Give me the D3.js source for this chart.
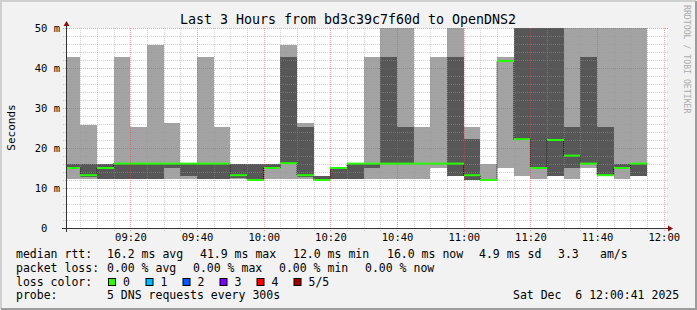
<!DOCTYPE html>
<html>
<head>
<meta charset="utf-8">
<script src="https://cdn.jsdelivr.net/npm/d3@7"></script>
<style>
  body { margin: 0; background: #fff; }
  svg { display: block; }
  text { font-family: "DejaVu Sans Mono", monospace; fill: #000; white-space: pre; }
</style>
</head>
<body>
<script>
// 5 minute steps, value shown is for the step ending at this time
var stepEnds = ["09:05", "09:10", "09:15", "09:20", "09:25", "09:30", "09:35",
  "09:40", "09:45", "09:50", "09:55", "10:00", "10:05", "10:10", "10:15",
  "10:20", "10:25", "10:30", "10:35", "10:40", "10:45", "10:50", "10:55",
  "11:00", "11:05", "11:10", "11:15", "11:20", "11:25", "11:30", "11:35",
  "11:40", "11:45", "11:50", "11:55"];
// sorted pings per step, in ms (values over 50 are off the chart)
var pingMin = [12.2, 12.2, 12.2, 12.2, 12.2, 12.2, 12.2, 12.2, 12.2, 12.2, 12.2,
  11.9, 12.2, 12.2, 12.2, 12.0, 12.2, 12.2, 12.2, 12.2, 12.2, 12.2, 15.0, 13.0,
  12.1, 12.0, 15.0, 13.0, 12.2, 13.0, 12.2, 15.0, 13.0, 12.2, 13.0];
var ping2 = [14.8, 12.8, 12.2, 12.2, 12.2, 12.2, 15.0, 13.0, 12.2, 12.2, 12.4,
  11.9, 15.0, 16.0, 12.8, 12.0, 12.2, 12.2, 15.0, 16.0, 16.0, 16.0, 15.9, 13.0,
  12.1, 12.0, 41.6, 22.1, 14.9, 13.0, 15.0, 16.0, 13.0, 14.9, 13.0];
var median = [15.0, 13.2, 15.0, 16.1, 16.1, 16.1, 16.1, 16.1, 16.1, 16.1, 13.2,
  12.0, 15.0, 16.2, 13.2, 12.0, 15.0, 16.1, 16.1, 16.1, 16.1, 16.1, 16.1, 16.1,
  13.2, 12.0, 41.75, 22.2, 15.0, 22.0, 18.1, 16.1, 13.2, 15.0, 16.1];
var ping4 = [16.0, 16.0, 16.0, 16.3, 16.3, 16.3, 16.3, 16.2, 16.3, 16.3, 16.0,
  16.0, 16.0, 42.75, 25.25, 13.1, 15.1, 16.3, 16.2, 42.75, 25.25, 16.2, 16.2, 42.75,
  22.25, 12.1, 41.9, 60, 60, 60, 25.25, 42.75, 25.25, 16.0, 16.2];
var pingMax = [42.75, 25.8, 16.1, 42.75, 25.25, 45.75, 26.25, 16.3, 42.75, 25.25, 16.0,
  16.0, 16.0, 45.75, 26.25, 13.1, 15.1, 16.3, 42.75, 60, 60, 25.25, 42.75, 60,
  25.25, 16.0, 42.75, 60, 60, 60, 60, 60, 60, 60, 60];

var yTicks = [0, 10, 20, 30, 40, 50];
var yTickLabels = ["0  ", "10 m", "20 m", "30 m", "40 m", "50 m"];

var lossLabels = ["0", "1", "2", "3", "4", "5/5"];
var lossColors = ["#26ff00", "#00b8ff", "#0059ff", "#7e00ff", "#ff0000", "#a10000"];

var rttStats = ["16.2 ms avg", "41.9 ms max", "12.0 ms min", "16.0 ms now",
  "4.9 ms sd", "3.3", "am/s"];
var lossStats = ["0.00 % avg", "0.00 % max", "0.00 % min", "0.00 % now"];
var probeText = "5 DNS requests every 300s";
var titleText = "Last 3 Hours from bd3c39c7f60d to OpenDNS2";
var stampText = "Sat Dec  6 12:00:41 2025";

var w = 697;
var h = 310;

var toDate = function(s) {
  var p = s.split(":");
  return new Date(2025, 11, 6, +p[0], +p[1], 0);
};
var start = new Date(2025, 11, 6, 9, 0, 41);
var end = new Date(2025, 11, 6, 12, 0, 41);

var x = d3.scaleTime().domain([start, end]).range([66, 666]);
var y = d3.scaleLinear().domain([0, 50]).range([228, 28]);

var steps = stepEnds.map(function(s, i) {
  var e = toDate(s);
  return {
    start: new Date(Math.max(+start, +e - 300000)),
    end: e,
    p1: pingMin[i], p2: ping2[i], p3: median[i], p4: ping4[i], p5: pingMax[i]
  };
});

var svg = d3.select("body").append("svg")
  .attr("width", w)
  .attr("height", h);

// frame
svg.append("rect").attr("width", w).attr("height", h).attr("fill", "#f2f2f2");
svg.append("path").attr("d", "M1,309 V1 H696").attr("fill", "none")
  .attr("stroke", "#d0d0d0").attr("stroke-width", 2);
svg.append("path").attr("d", "M1,309 H696 V1").attr("fill", "none")
  .attr("stroke", "#9c9c9c").attr("stroke-width", 2);

svg.append("defs").append("clipPath").attr("id", "plot")
  .append("rect").attr("x", 66).attr("y", 28).attr("width", 600).attr("height", 200);

svg.append("rect")
  .attr("x", 66).attr("y", 28).attr("width", 601).attr("height", 200)
  .attr("fill", "#fff");

var plot = svg.append("g").attr("clip-path", "url(#plot)");

var rx = function(d) { return Math.round(x(d.start)); };
var rw = function(d) { return Math.round(x(d.end)) - Math.round(x(d.start)); };

// outer smoke
plot.selectAll(".outer")
  .data(steps)
  .enter()
  .append("rect")
  .attr("x", rx)
  .attr("width", rw)
  .attr("y", function(d) { return y(d.p5); })
  .attr("height", function(d) { return y(d.p1) - y(d.p5); })
  .attr("fill", "#a3a3a3")
  .attr("shape-rendering", "crispEdges");

// inner smoke
plot.selectAll(".inner")
  .data(steps)
  .enter()
  .append("rect")
  .attr("x", rx)
  .attr("width", rw)
  .attr("y", function(d) { return y(d.p4); })
  .attr("height", function(d) { return y(d.p2) - y(d.p4); })
  .attr("fill", "#575757")
  .attr("shape-rendering", "crispEdges");

// grid
var grid = svg.append("g");
var minorTimes = d3.timeMinute.every(5).range(start, end);
minorTimes.forEach(function(t) {
  var major = t.getMinutes() % 20 === 0;
  var px = Math.round(x(t)) + 0.5;
  grid.append("line")
    .attr("x1", px).attr("x2", px).attr("y1", 28).attr("y2", 231)
    .attr("stroke", major ? "rgba(225,70,70,0.5)" : "rgba(150,150,150,0.45)")
    .attr("stroke-dasharray", "1,1");
});
d3.range(2, 51, 2).forEach(function(v) {
  var major = v % 10 === 0;
  var py = Math.round(y(v)) + 0.5;
  grid.append("line")
    .attr("x1", 63).attr("x2", 668).attr("y1", py).attr("y2", py)
    .attr("stroke", major ? "rgba(225,70,70,0.5)" : "rgba(150,150,150,0.45)")
    .attr("stroke-dasharray", "1,1");
});

// median step line and loss coloured segments
var pts = steps.map(function(d) { return [x(d.start), y(d.p3)]; });
pts.push([x(steps[steps.length - 1].end), y(steps[steps.length - 1].p3)]);
plot.append("path")
  .attr("d", d3.line().curve(d3.curveStepAfter)(pts))
  .attr("fill", "none")
  .attr("stroke", "#000")
  .attr("stroke-dasharray", "1,1")
  .attr("stroke-width", 1);

plot.selectAll(".med")
  .data(steps)
  .enter()
  .append("line")
  .attr("x1", rx)
  .attr("x2", function(d) { return Math.round(x(d.end)); })
  .attr("y1", function(d) { return y(d.p3); })
  .attr("y2", function(d) { return y(d.p3); })
  .attr("stroke", lossColors[0])
  .attr("stroke-width", 2);

// axes
svg.append("line").attr("x1", 62).attr("x2", 669).attr("y1", 228.5).attr("y2", 228.5)
  .attr("stroke", "#333");
svg.append("line").attr("x1", 66.5).attr("x2", 66.5).attr("y1", 232).attr("y2", 25)
  .attr("stroke", "#333");
svg.append("path").attr("d", "M668,225.5 L673,228.5 L668,231.5 Z").attr("fill", "#8b1010");
svg.append("path").attr("d", "M63.5,26 L66.5,21 L69.5,26 Z").attr("fill", "#8b1010");

var xAxis = svg.append("g")
  .attr("transform", "translate(0,228)")
  .call(d3.axisBottom(x)
    .ticks(d3.timeMinute.every(20))
    .tickFormat(d3.timeFormat("%H:%M"))
    .tickSize(0)
    .tickPadding(6));
xAxis.select(".domain").remove();
xAxis.attr("font-family", null).attr("font-size", null);
xAxis.selectAll("text").style("font-size", "10.5px").attr("fill", "#000");

var yAxis = svg.append("g")
  .attr("transform", "translate(66,0)")
  .call(d3.axisLeft(y)
    .tickValues(yTicks)
    .tickFormat(function(d, i) { return yTickLabels[i]; })
    .tickSize(0)
    .tickPadding(6));
yAxis.select(".domain").remove();
yAxis.attr("font-family", null).attr("font-size", null);
yAxis.selectAll("text").style("font-size", "10.5px").attr("xml:space", "preserve")
  .attr("fill", "#000");

// titles
svg.append("text")
  .attr("x", 348).attr("y", 24)
  .attr("text-anchor", "middle")
  .style("font-size", "13.3px")
  .text(titleText);

svg.append("text")
  .attr("transform", "translate(15,127.5) rotate(-90)")
  .attr("text-anchor", "middle")
  .style("font-size", "11px")
  .text("Seconds");

svg.append("text")
  .attr("transform", "translate(684,5) rotate(90)")
  .style("font-size", "8.2px")
  .style("fill", "#aaaaaa")
  .text("RRDTOOL / TOBI OETIKER");

// legend
var legend = svg.append("g").style("font-size", "11.5px");
var rowY = [258, 271.8, 285.5, 299.3];
var rttX = [107, 200, 293, 387, 479, 558, 600];
var lossX = [107, 193, 279, 365];
var boxX = [108, 145.5, 182.5, 219.5, 256.5, 293.5];

var say = function(sx, sy, s) {
  legend.append("text")
    .attr("x", sx).attr("y", sy)
    .attr("xml:space", "preserve")
    .text(s);
};

say(16, rowY[0], "median rtt:");
rttStats.forEach(function(s, i) { say(rttX[i], rowY[0], s); });

say(16, rowY[1], "packet loss:");
lossStats.forEach(function(s, i) { say(lossX[i], rowY[1], s); });

say(16, rowY[2], "loss color:");
legend.selectAll(".box").data(lossColors).enter().append("rect")
  .attr("x", function(d, i) { return boxX[i] + 0.5; })
  .attr("y", 278.5)
  .attr("width", 7)
  .attr("height", 7)
  .attr("fill", function(d) { return d; })
  .attr("stroke", "#000");
lossLabels.forEach(function(s, i) { say(boxX[i] + 15, rowY[2], s); });

say(16, rowY[3], "probe:");
say(107, rowY[3], probeText);
say(513, rowY[3], stampText);
</script>
</body>
</html>
